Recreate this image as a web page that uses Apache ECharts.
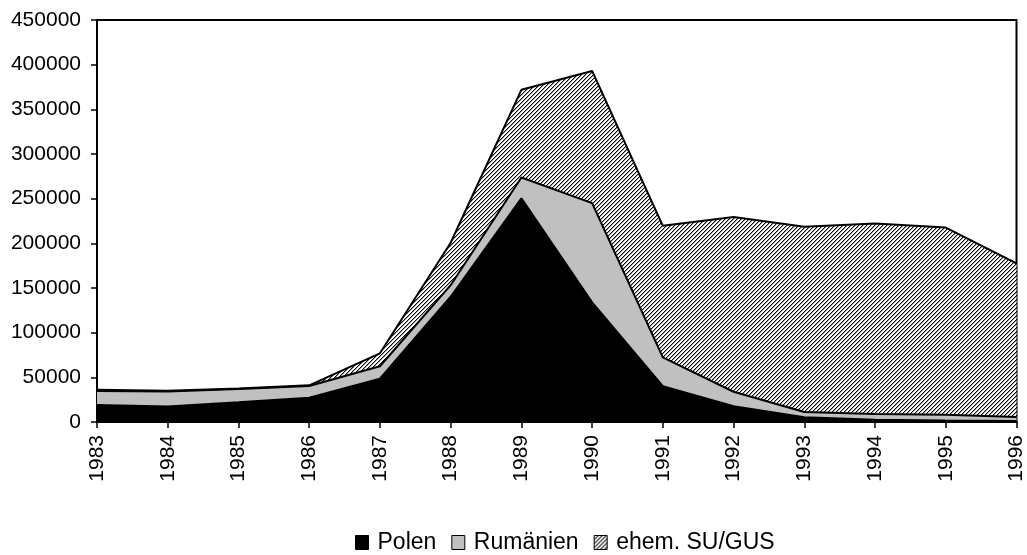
<!DOCTYPE html>
<html><head><meta charset="utf-8">
<script src="https://cdn.jsdelivr.net/npm/echarts@6/dist/echarts.min.js"></script>
<style>html,body{margin:0;padding:0;background:#fff}#c{width:1027px;height:555px}</style>
</head><body><div id="c"></div>
<script>
const years = ['1983','1984','1985','1986','1987','1988','1989','1990','1991','1992','1993','1994','1995','1996'];
const polen = [19122, 17455, 22075, 27188, 48423, 140226, 250340, 133872, 40129, 17742, 5431, 2440, 1677, 1175];
const rumaenien = [15501, 16553, 14924, 13130, 13994, 12902, 23387, 111150, 32178, 16146, 5811, 6615, 6519, 4284];
const suGus = [1447, 913, 460, 753, 14488, 47572, 98134, 147950, 147320, 195576, 207347, 213214, 209409, 172181];
const seriesNames = ['Polen', 'Rumänien', 'ehem. SU/GUS'];

function hatchCanvas() {
  const n = 4;
  const c = document.createElement('canvas');
  c.width = n; c.height = n;
  const g = c.getContext('2d');
  g.fillStyle = '#fff'; g.fillRect(0, 0, n, n);
  for (let x = 0; x < n; x++) {
    g.fillStyle = '#000';
    g.fillRect(x, (n - 1 - x), 1, 1);
    g.fillStyle = '#a0a0a0';
    g.fillRect(x, (n - x) % n, 1, 1);
  }
  return c;
}
const hatch = { image: hatchCanvas(), repeat: 'repeat' };
const fills = ['#000000', '#c0c0c0', hatch];
const dataSets = [polen, rumaenien, suGus];

const chart = echarts.init(document.getElementById('c'), null, { renderer: 'canvas' });
const font = 'Liberation Sans, Arial, sans-serif';
chart.setOption({
  animation: false,
  backgroundColor: '#fff',
  textStyle: { fontFamily: font },
  grid: { left: 97, right: 5, top: 20, bottom: 133, show: true, borderColor: '#000', borderWidth: 2, backgroundColor: 'transparent' },
  legend: {
    top: 531, left: 355, padding: 0,
    itemWidth: 13, itemHeight: 14, itemGap: 15,
    textStyle: { fontSize: 23, color: '#000', fontFamily: font, padding: [0, 0, 0, 4] },
    data: seriesNames.map((n, i) => ({ name: n, icon: 'rect', itemStyle: { color: fills[i], borderColor: '#000', borderWidth: 1 } }))
  },
  xAxis: {
    type: 'category', data: years, boundaryGap: false,
    axisLine: { lineStyle: { color: '#000', width: 2 } },
    axisTick: { show: true, length: 6, interval: 0, lineStyle: { color: '#000', width: 1.5 } },
    axisLabel: { rotate: 90, interval: 0, fontSize: 21, color: '#000', margin: 13, fontFamily: font },
    splitLine: { show: false }
  },
  yAxis: {
    type: 'value', min: 0, max: 450000, interval: 50000,
    axisLine: { show: true, lineStyle: { color: '#000', width: 2 } },
    axisTick: { show: true, length: 6, lineStyle: { color: '#000', width: 1.5 } },
    axisLabel: { fontSize: 21, color: '#000', margin: 16, fontFamily: font, formatter: v => String(v) },
    splitLine: { show: false }
  },
  series: seriesNames.map((n, i) => ({
    name: n, type: 'line', stack: 'total', data: dataSets[i],
    symbol: 'none', smooth: false,
    lineStyle: { color: '#000', width: 2 },
    itemStyle: { color: fills[i] },
    areaStyle: { color: fills[i], opacity: 1 },
    emphasis: { disabled: true }
  }))
});
</script></body></html>
